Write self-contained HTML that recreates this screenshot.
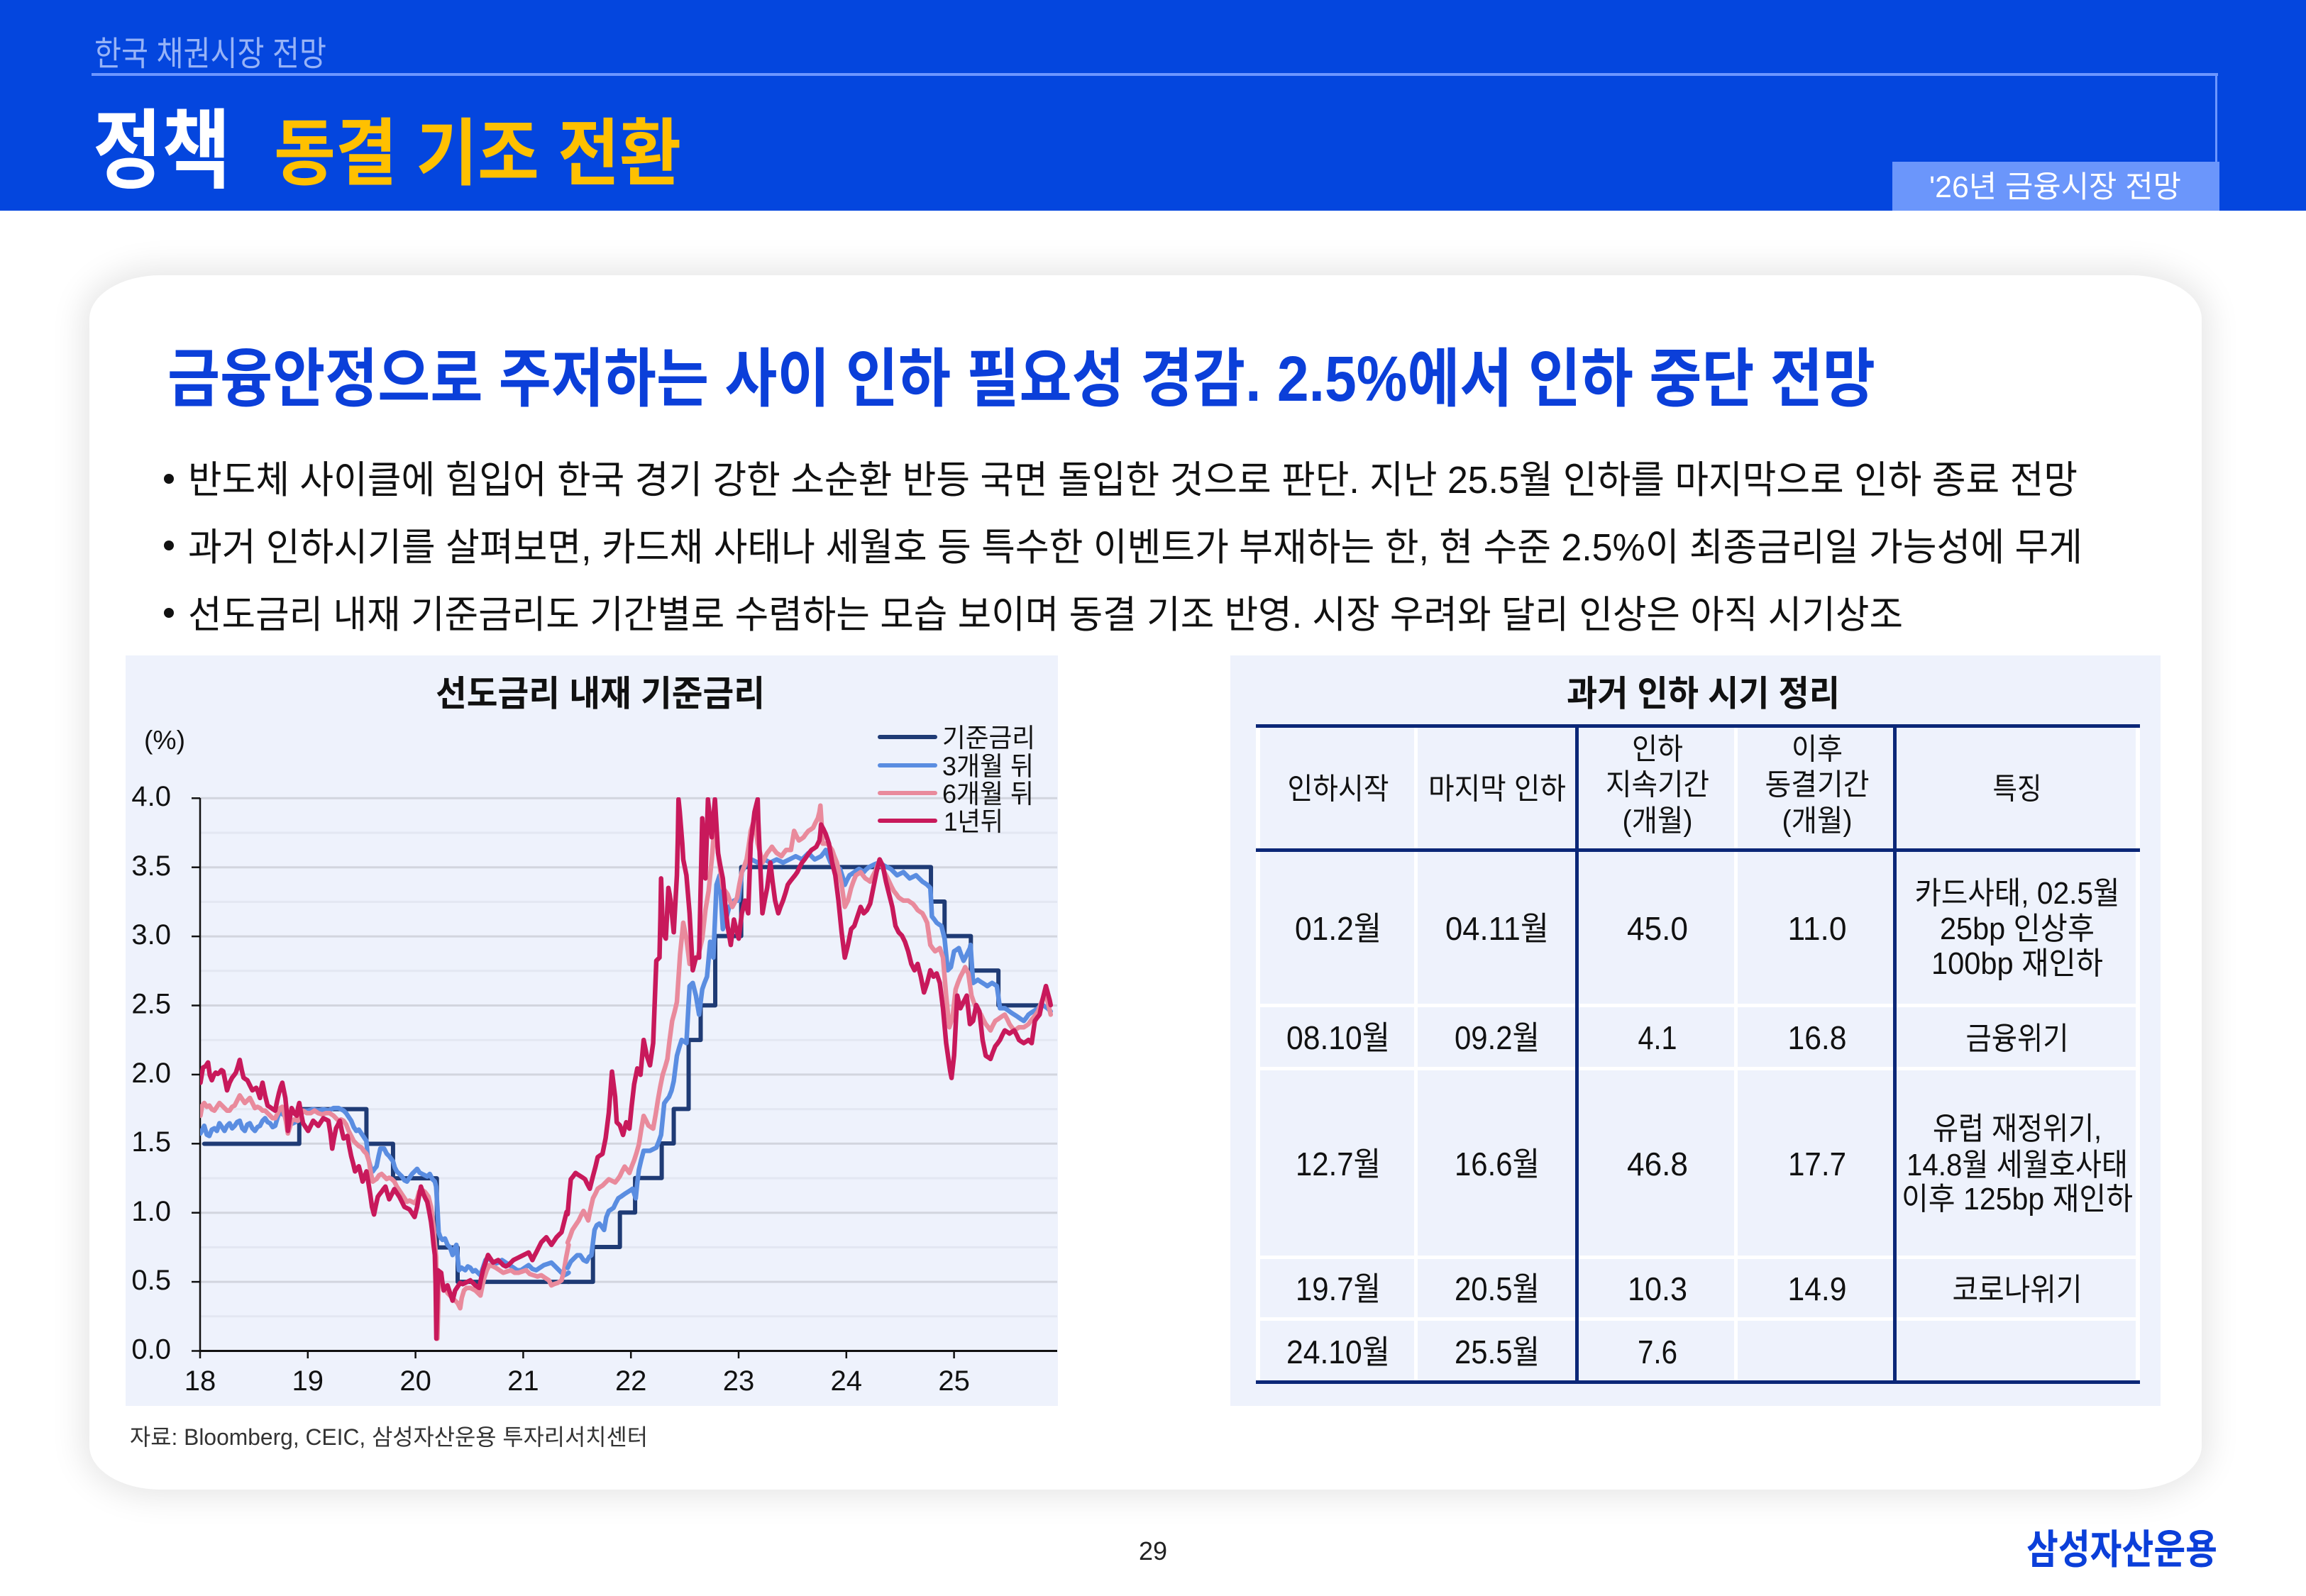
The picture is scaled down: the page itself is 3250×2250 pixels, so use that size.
<!DOCTYPE html>
<html lang="ko">
<head>
<meta charset="utf-8">
<style>
  html, body { margin:0; padding:0; }
  body { width:3250px; height:2250px; position:relative; overflow:hidden; background:#ffffff; }
  .abs { position:absolute; }
  svg text { font-family: "Liberation Sans", "Noto Sans CJK KR", sans-serif; }
</style>
</head>
<body>
<div class="abs" style="left:0;top:0;width:3250px;height:297px;background:#0446de;"></div>
<div class="abs" style="left:2667px;top:228px;width:461px;height:69px;background:#6b96fb;"></div>
<div class="abs" style="left:126px;top:388px;width:2977px;height:1712px;background:#ffffff;border-radius:100px / 62px;box-shadow:0 0 45px 10px rgba(0,0,0,0.10);"></div>
<div class="abs" style="left:177px;top:924px;width:1314px;height:1058px;background:#eef2fc;"></div>
<div class="abs" style="left:1734px;top:924px;width:1311px;height:1058px;background:#eef2fc;"></div>

<svg class="abs" style="left:0;top:0;" width="3250" height="2250" viewBox="0 0 3250 2250" xmlns="http://www.w3.org/2000/svg">
  <!-- header lines -->
  <rect x="129" y="103" width="2997" height="4" fill="#6d96ff"/>
  <rect x="3122" y="103" width="3" height="125" fill="#6d96ff"/>

  <!-- header text -->
  <text x="133" y="92" font-size="48" fill="#97b3f7" textLength="327" lengthAdjust="spacingAndGlyphs">한국 채권시장 전망</text>
  <text x="131" y="255" font-size="122" font-weight="700" fill="#ffffff" textLength="194" lengthAdjust="spacingAndGlyphs">정책</text>
  <text x="386" y="252" font-size="103" font-weight="700" fill="#ffc000" textLength="574" lengthAdjust="spacingAndGlyphs">동결 기조 전환</text>
  <text x="2719" y="278" font-size="43" fill="#ffffff" textLength="355" lengthAdjust="spacingAndGlyphs">'26년 금융시장 전망</text>

  <!-- headline -->
  <text x="236" y="565" font-size="90" font-weight="700" fill="#0b3fd9" textLength="2407" lengthAdjust="spacingAndGlyphs">금융안정으로 주저하는 사이 인하 필요성 경감. 2.5%에서 인하 중단 전망</text>

  <!-- bullets -->
  <circle cx="238" cy="675" r="7" fill="#111"/>
  <circle cx="238" cy="769" r="7" fill="#111"/>
  <circle cx="238" cy="864" r="7" fill="#111"/>
  <text x="265" y="695" font-size="54" fill="#111" textLength="2663" lengthAdjust="spacingAndGlyphs">반도체 사이클에 힘입어 한국 경기 강한 소순환 반등 국면 돌입한 것으로 판단. 지난 25.5월 인하를 마지막으로 인하 종료 전망</text>
  <text x="265" y="790" font-size="54" fill="#111" textLength="2670" lengthAdjust="spacingAndGlyphs">과거 인하시기를 살펴보면, 카드채 사태나 세월호 등 특수한 이벤트가 부재하는 한, 현 수준 2.5%이 최종금리일 가능성에 무게</text>
  <text x="265" y="885" font-size="54" fill="#111" textLength="2417" lengthAdjust="spacingAndGlyphs">선도금리 내재 기준금리도 기간별로 수렴하는 모습 보이며 동결 기조 반영. 시장 우려와 달리 인상은 아직 시기상조</text>

  <!-- ============ CHART ============ -->
  <text x="614" y="995" font-size="50" font-weight="700" fill="#111" textLength="464" lengthAdjust="spacingAndGlyphs">선도금리 내재 기준금리</text>
  <text x="203" y="1056" font-size="37" fill="#111" textLength="58" lengthAdjust="spacingAndGlyphs">(%)</text>

  <!-- minor gridlines -->
  <g stroke="#e3e7f2" stroke-width="3">
    <line x1="282" y1="1174" x2="1490" y2="1174"/>
    <line x1="282" y1="1271.4" x2="1490" y2="1271.4"/>
    <line x1="282" y1="1368.8" x2="1490" y2="1368.8"/>
    <line x1="282" y1="1466.2" x2="1490" y2="1466.2"/>
    <line x1="282" y1="1563.6" x2="1490" y2="1563.6"/>
    <line x1="282" y1="1661" x2="1490" y2="1661"/>
    <line x1="282" y1="1758.4" x2="1490" y2="1758.4"/>
    <line x1="282" y1="1855.8" x2="1490" y2="1855.8"/>
  </g>
  <!-- major gridlines -->
  <g stroke="#d2d5de" stroke-width="3">
    <line x1="282" y1="1125.3" x2="1490" y2="1125.3"/>
    <line x1="282" y1="1222.7" x2="1490" y2="1222.7"/>
    <line x1="282" y1="1320.1" x2="1490" y2="1320.1"/>
    <line x1="282" y1="1417.5" x2="1490" y2="1417.5"/>
    <line x1="282" y1="1514.9" x2="1490" y2="1514.9"/>
    <line x1="282" y1="1612.3" x2="1490" y2="1612.3"/>
    <line x1="282" y1="1709.7" x2="1490" y2="1709.7"/>
    <line x1="282" y1="1807.1" x2="1490" y2="1807.1"/>
  </g>
  <!-- axes -->
  <g stroke="#111" stroke-width="2.5">
    <line x1="282" y1="1125" x2="282" y2="1905"/>
    <line x1="270" y1="1125.3" x2="282" y2="1125.3"/>
    <line x1="270" y1="1222.7" x2="282" y2="1222.7"/>
    <line x1="270" y1="1320.1" x2="282" y2="1320.1"/>
    <line x1="270" y1="1417.5" x2="282" y2="1417.5"/>
    <line x1="270" y1="1514.9" x2="282" y2="1514.9"/>
    <line x1="270" y1="1612.3" x2="282" y2="1612.3"/>
    <line x1="270" y1="1709.7" x2="282" y2="1709.7"/>
    <line x1="270" y1="1807.1" x2="282" y2="1807.1"/>
    <line x1="270" y1="1904.5" x2="282" y2="1904.5"/>
    <line x1="282" y1="1915" x2="282" y2="1904"/>
    <line x1="433.8" y1="1915" x2="433.8" y2="1904"/>
    <line x1="585.6" y1="1915" x2="585.6" y2="1904"/>
    <line x1="737.4" y1="1915" x2="737.4" y2="1904"/>
    <line x1="889.2" y1="1915" x2="889.2" y2="1904"/>
    <line x1="1041" y1="1915" x2="1041" y2="1904"/>
    <line x1="1192.8" y1="1915" x2="1192.8" y2="1904"/>
    <line x1="1344.6" y1="1915" x2="1344.6" y2="1904"/>
  </g>
  <line x1="281" y1="1904.5" x2="1490" y2="1904.5" stroke="#111" stroke-width="3"/>

  <!-- y tick labels -->
  <g font-size="40" fill="#111" text-anchor="end">
    <text x="241" y="1136">4.0</text>
    <text x="241" y="1234">3.5</text>
    <text x="241" y="1331">3.0</text>
    <text x="241" y="1428.5">2.5</text>
    <text x="241" y="1526">2.0</text>
    <text x="241" y="1623">1.5</text>
    <text x="241" y="1721">1.0</text>
    <text x="241" y="1818">0.5</text>
    <text x="241" y="1915.5">0.0</text>
  </g>
  <!-- x tick labels -->
  <g font-size="40" fill="#111" text-anchor="middle">
    <text x="282" y="1960">18</text>
    <text x="433.8" y="1960">19</text>
    <text x="585.6" y="1960">20</text>
    <text x="737.4" y="1960">21</text>
    <text x="889.2" y="1960">22</text>
    <text x="1041" y="1960">23</text>
    <text x="1192.8" y="1960">24</text>
    <text x="1344.6" y="1960">25</text>
  </g>

  <defs>
    <clipPath id="plotclip" clipPathUnits="userSpaceOnUse">
      <rect x="282" y="1124" width="1210" height="800"/>
    </clipPath>
  </defs>

  <g clip-path="url(#plotclip)" fill="none" stroke-linejoin="round" stroke-linecap="round">
    <!-- left portion (2018 - 2021.4) -->
    <g transform="translate(270,1380) scale(0.35714)">
      <polyline vector-effect="non-scaling-stroke" stroke="#1f3b75" stroke-width="6" points="50,651 425,651 425,514 690,514 690,651 795,651 795,787 968,787 968,1060 1050,1060 1050,1196 1490,1196"/>
      <polyline vector-effect="non-scaling-stroke" stroke="#5a8de1" stroke-width="6.5" points="35,610 50,580 60,615 70,620 80,595 90,590 100,600 110,570 120,585 130,600 140,580 150,570 160,590 170,580 180,565 190,560 200,590 210,600 220,575 230,570 240,590 250,600 260,585 270,580 280,560 290,550 300,565 310,570 320,585 330,580 340,545 350,520 360,535 370,540 380,560 385,570 400,570 410,565 420,560 430,540 440,520 460,520 480,515 500,520 520,515 540,520 560,510 580,510 600,520 610,530 620,545 630,560 640,585 650,600 660,595 670,610 680,625 690,640 695,700 700,720 707,745 715,760 722,750 730,740 738,700 745,670 760,670 770,690 780,700 795,720 802,745 810,760 820,770 830,780 840,795 850,800 860,785 870,770 880,760 890,750 900,765 910,770 920,775 930,780 940,770 950,790 960,800 965,820 970,900 975,1000 982,1020 990,1030 1000,1025 1010,1050 1020,1060 1030,1090 1040,1060 1045,1050 1050,1100 1055,1150 1065,1140 1080,1150 1090,1135 1100,1140 1110,1155 1120,1150 1130,1160 1140,1170 1150,1140 1160,1110 1170,1100 1180,1110 1195,1125 1210,1120 1225,1110 1240,1120 1255,1130 1270,1140 1285,1150 1300,1150 1315,1140 1330,1130 1345,1145 1360,1150 1375,1140 1390,1130 1405,1125 1420,1120 1435,1135 1450,1150 1460,1160 1470,1170 1480,1165 1488,1160"/>
      <polyline vector-effect="non-scaling-stroke" stroke="#e98a9c" stroke-width="6.5" points="35,540 42,500 50,490 60,505 70,500 80,515 90,520 100,505 110,490 120,500 130,510 140,520 150,520 160,505 170,500 180,480 190,460 200,475 210,490 220,480 230,470 240,490 250,510 260,505 270,510 280,520 290,520 300,530 310,540 320,550 330,550 340,530 350,510 358,505 365,530 372,560 380,610 388,585 395,560 405,555 420,560 430,540 440,520 455,530 470,530 485,520 500,530 515,535 530,530 545,530 560,540 570,550 580,560 590,555 600,560 610,575 620,600 630,620 640,640 650,650 660,660 670,665 680,680 690,690 700,720 708,770 715,800 722,795 730,790 740,775 750,770 760,780 770,790 780,785 790,790 800,800 810,820 820,835 830,850 840,865 850,880 860,875 870,880 880,885 890,870 898,840 905,830 912,835 920,840 928,850 935,860 940,880 945,900 950,940 955,980 960,1040 965,1100 968,1300 970,1420 973,1300 975,1190 982,1195 990,1200 1000,1220 1010,1240 1020,1250 1030,1260 1040,1270 1050,1280 1060,1300 1066,1260 1075,1230 1085,1220 1100,1220 1110,1225 1120,1230 1130,1240 1140,1250 1148,1210 1155,1180 1165,1150 1175,1130 1190,1135 1200,1140 1215,1150 1230,1160 1245,1155 1260,1150 1275,1160 1290,1160 1305,1155 1320,1150 1335,1165 1350,1170 1365,1175 1380,1170 1395,1180 1410,1190 1420,1210 1430,1205 1445,1200 1460,1190 1470,1150 1478,1100 1488,1050"/>
      <polyline vector-effect="non-scaling-stroke" stroke="#c8195b" stroke-width="6.5" points="35,410 40,380 45,350 55,345 65,330 72,380 80,400 88,380 95,370 103,375 110,370 118,360 125,365 132,400 140,440 150,410 160,390 168,380 175,370 183,345 190,320 198,360 205,390 212,395 220,400 230,420 240,440 248,435 255,430 262,445 270,470 275,430 280,410 290,460 300,500 308,505 315,510 322,515 330,520 338,480 345,450 352,425 358,410 364,440 370,470 375,520 380,600 386,560 395,510 405,530 415,540 420,510 425,490 432,530 440,570 450,585 460,600 470,580 480,560 490,570 500,580 510,565 520,550 530,555 540,560 548,610 555,670 562,630 570,590 578,575 585,560 593,600 600,630 608,625 615,620 622,660 630,700 638,730 645,760 652,750 660,740 668,770 675,800 683,780 690,760 697,800 705,850 712,900 720,930 727,895 735,860 742,850 750,840 757,830 765,820 772,845 780,870 790,850 800,830 810,845 820,860 830,880 840,900 850,905 860,910 870,925 880,940 885,920 890,900 897,860 905,820 910,835 915,850 922,865 930,880 938,920 945,960 950,1000 955,1050 960,1090 963,1200 966,1420 969,1300 972,1150 978,1155 985,1160 990,1200 995,1230 1002,1220 1010,1210 1020,1240 1030,1270 1035,1250 1040,1230 1050,1215 1060,1200 1070,1205 1080,1200 1090,1195 1100,1190 1110,1200 1120,1210 1128,1215 1135,1220 1142,1185 1150,1150 1160,1120 1170,1090 1180,1105 1190,1120 1200,1115 1210,1110 1220,1120 1230,1130 1240,1135 1250,1130 1260,1120 1270,1110 1280,1105 1290,1100 1300,1095 1310,1090 1320,1085 1330,1080 1338,1095 1345,1110 1352,1095 1360,1080 1370,1060 1380,1040 1390,1030 1400,1020 1410,1035 1420,1050 1430,1035 1440,1020 1450,1010 1460,1000 1470,960 1480,920"/>
    </g>
    <!-- right portion (2021.4 - 2025.9) -->
    <g transform="translate(800,1100) scale(0.44643)">
      <polyline vector-effect="non-scaling-stroke" stroke="#1f3b75" stroke-width="6" points="0,1584 80,1584 80,1474 165,1474 165,1365 213,1365 213,1256 297,1256 297,1147 335,1147 335,1038 382,1038 382,820 420,820 420,711 466,711 466,492 548,492 548,274 1147,274 1147,383 1190,383 1190,492 1273,492 1273,601 1360,601 1360,711 1495,711"/>
      <polyline vector-effect="non-scaling-stroke" stroke="#5a8de1" stroke-width="6.5" points="0,1540 10,1520 20,1510 30,1500 40,1500 50,1515 60,1520 68,1505 75,1500 80,1460 85,1420 92,1405 100,1400 108,1410 115,1420 122,1380 130,1360 138,1355 145,1350 152,1335 160,1320 168,1315 175,1310 182,1305 190,1300 198,1295 205,1290 210,1305 215,1320 220,1270 225,1230 232,1200 240,1170 250,1170 260,1170 270,1165 280,1160 288,1140 295,1120 300,1070 305,1020 312,1010 320,1000 328,980 335,950 340,910 345,870 352,845 360,820 368,825 375,830 380,740 385,650 390,645 395,640 400,660 405,680 410,710 415,740 420,700 425,660 432,640 440,620 445,565 450,510 455,535 460,560 465,445 470,330 475,315 480,300 485,385 490,470 495,455 500,440 505,420 510,400 518,390 525,380 532,380 540,380 545,335 550,290 558,275 565,260 572,255 580,250 590,255 600,260 610,255 620,250 630,255 640,260 650,255 660,250 670,255 680,260 690,255 700,250 710,245 720,240 730,245 740,250 750,240 760,230 770,240 780,250 790,245 800,240 808,230 815,220 822,240 830,260 838,265 845,270 852,275 860,280 868,305 875,330 882,315 890,300 898,295 905,290 912,285 920,280 928,285 935,290 942,282 950,275 960,270 970,265 978,262 985,260 992,265 1000,270 1010,275 1020,280 1030,290 1040,300 1050,295 1060,290 1070,300 1080,310 1090,305 1100,300 1110,310 1120,320 1128,325 1135,330 1140,335 1145,340 1148,390 1150,430 1158,440 1165,450 1172,455 1180,460 1185,480 1190,500 1195,550 1200,600 1205,595 1210,590 1215,565 1220,540 1228,535 1235,530 1242,550 1250,570 1258,555 1265,540 1270,530 1272,520 1276,580 1280,640 1288,635 1295,630 1302,635 1310,640 1318,645 1325,650 1332,645 1340,640 1348,645 1355,650 1360,685 1365,720 1372,720 1380,720 1388,725 1395,730 1402,735 1410,740 1418,745 1425,750 1432,755 1440,760 1448,750 1455,740 1462,735 1470,730 1478,725 1485,720 1492,715 1500,710 1508,715 1515,720 1520,725 1525,730"/>
      <polyline vector-effect="non-scaling-stroke" stroke="#e98a9c" stroke-width="6.5" points="0,1460 8,1440 15,1420 25,1405 35,1390 42,1375 50,1360 58,1375 65,1390 72,1355 80,1320 88,1305 95,1290 102,1285 110,1280 120,1270 130,1260 140,1265 150,1270 158,1260 165,1250 172,1235 180,1220 188,1230 195,1240 202,1220 210,1200 218,1175 225,1150 232,1105 240,1060 248,1075 255,1090 262,1095 270,1100 278,1055 285,1010 292,970 300,930 308,905 315,880 322,820 330,760 338,730 345,700 350,625 355,550 360,500 365,450 370,475 375,500 380,540 385,580 390,575 395,570 402,565 410,560 418,530 425,500 430,455 435,410 440,380 445,350 450,300 455,250 460,190 465,130 470,180 475,230 482,285 490,340 498,350 505,360 512,380 520,400 528,385 535,370 542,330 550,290 558,270 565,250 572,205 578,160 584,140 590,120 595,160 600,200 608,230 615,260 622,245 630,230 638,220 645,210 652,220 660,230 668,235 675,240 682,230 690,220 698,220 705,220 710,190 715,160 722,175 730,190 738,185 745,180 752,170 760,160 768,155 775,150 782,135 790,120 795,100 798,80 802,140 805,200 812,200 820,200 828,210 835,220 842,240 850,260 858,295 865,330 870,365 875,400 880,390 885,380 890,360 895,340 902,320 910,300 918,295 925,290 932,300 940,310 948,315 955,320 962,305 970,290 978,270 985,250 992,270 1000,290 1008,305 1015,320 1022,335 1030,350 1038,360 1045,370 1052,375 1060,380 1068,380 1075,380 1082,385 1090,390 1098,400 1105,410 1112,415 1120,420 1128,435 1135,450 1140,485 1145,520 1152,530 1160,540 1168,535 1175,530 1180,545 1185,560 1190,620 1195,680 1200,730 1205,780 1210,765 1215,750 1220,705 1225,660 1232,640 1240,620 1248,605 1255,590 1260,600 1265,610 1270,645 1275,680 1282,700 1290,720 1298,730 1305,740 1312,755 1320,770 1328,780 1335,790 1342,775 1350,760 1358,755 1365,750 1372,745 1380,740 1388,755 1395,770 1402,780 1410,790 1418,785 1425,780 1432,780 1440,780 1448,775 1455,770 1462,760 1470,750 1478,740 1485,730 1492,710 1500,690 1505,685 1510,680 1518,710 1525,740"/>
      <polyline vector-effect="non-scaling-stroke" stroke="#c8195b" stroke-width="6.5" points="0,1370 5,1310 10,1260 18,1250 25,1240 32,1245 40,1250 48,1255 55,1260 62,1275 70,1290 75,1270 80,1250 88,1220 95,1190 102,1185 110,1180 115,1155 120,1130 125,1090 130,1050 135,985 140,920 145,960 150,1000 155,1080 160,1085 165,1090 170,1105 175,1120 180,1100 185,1080 190,1090 195,1100 202,1030 210,960 215,935 220,910 225,920 230,930 235,875 240,820 245,845 250,870 255,885 260,900 265,865 270,830 275,700 280,570 285,565 290,560 293,430 295,310 298,400 300,480 305,490 310,500 314,420 318,340 322,360 325,380 330,430 335,480 340,390 345,300 348,180 350,60 354,100 358,150 362,200 365,250 370,275 375,300 380,360 385,420 390,510 395,600 400,580 405,560 410,560 415,560 420,340 425,120 430,215 435,310 439,185 443,60 449,120 455,180 460,120 465,60 470,145 475,230 482,270 490,310 497,385 505,460 510,490 515,520 520,480 525,440 532,470 540,500 545,460 550,420 555,400 560,380 565,400 570,420 574,310 578,200 584,150 590,100 595,80 600,60 602,130 605,200 610,310 615,420 622,380 630,340 635,300 640,260 647,320 655,380 660,400 665,420 672,400 680,380 688,355 695,330 702,320 710,310 718,300 725,290 732,275 740,260 748,250 755,240 762,230 770,220 778,215 785,210 790,200 795,190 798,165 800,140 808,155 815,170 820,185 825,200 830,230 835,260 840,280 845,300 850,340 855,380 860,430 865,480 870,520 875,560 880,540 885,520 890,495 895,470 900,465 905,460 910,445 915,430 920,415 925,400 930,410 935,420 940,415 945,410 950,400 955,390 960,365 965,340 970,315 975,290 980,270 985,250 990,260 995,270 1000,295 1005,320 1010,340 1015,360 1020,380 1025,400 1030,430 1035,460 1040,470 1045,480 1050,485 1055,490 1060,500 1065,510 1070,525 1075,540 1080,560 1085,580 1090,590 1095,600 1100,590 1105,580 1110,600 1115,620 1120,645 1125,670 1130,655 1135,640 1140,620 1145,600 1150,610 1155,620 1160,615 1165,610 1170,625 1175,640 1180,680 1185,720 1190,775 1195,830 1200,865 1205,900 1208,920 1212,940 1216,905 1220,870 1225,775 1230,680 1235,700 1240,720 1245,710 1250,700 1255,690 1260,680 1265,725 1270,770 1275,765 1280,760 1285,735 1290,710 1295,720 1300,730 1305,775 1310,820 1315,845 1320,870 1328,875 1335,880 1342,860 1350,840 1358,830 1365,820 1372,805 1380,790 1388,795 1395,800 1402,795 1410,790 1418,805 1425,820 1432,825 1440,830 1448,825 1455,820 1460,825 1465,830 1470,795 1475,760 1482,750 1490,740 1495,715 1500,690 1505,670 1510,650 1514,665 1518,680 1522,695 1525,710"/>
    </g>
  </g>

  <!-- legend -->
  <g stroke-width="6" stroke-linecap="round">
    <line x1="1240" y1="1039" x2="1318" y2="1039" stroke="#1f3b75"/>
    <line x1="1240" y1="1079" x2="1318" y2="1079" stroke="#5a8de1"/>
    <line x1="1240" y1="1118" x2="1318" y2="1118" stroke="#e98a9c"/>
    <line x1="1240" y1="1157" x2="1318" y2="1157" stroke="#c8195b"/>
  </g>
  <g font-size="37" fill="#111">
    <text x="1328" y="1053" textLength="131" lengthAdjust="spacingAndGlyphs">기준금리</text>
    <text x="1328" y="1093" textLength="129" lengthAdjust="spacingAndGlyphs">3개월 뒤</text>
    <text x="1328" y="1132" textLength="129" lengthAdjust="spacingAndGlyphs">6개월 뒤</text>
    <text x="1330" y="1171" textLength="84" lengthAdjust="spacingAndGlyphs">1년뒤</text>
  </g>

  <!-- ============ TABLE ============ -->
  <text x="2208" y="995" font-size="50" font-weight="700" fill="#111" textLength="385" lengthAdjust="spacingAndGlyphs">과거 인하 시기 정리</text>

  <!-- white separators -->
  <g fill="#ffffff">
    <rect x="1770" y="1026" width="6" height="921"/>
    <rect x="3010" y="1026" width="6" height="921"/>
    <rect x="1993" y="1026" width="5" height="921"/>
    <rect x="2444" y="1026" width="5" height="921"/>
    <rect x="1770" y="1415" width="1246" height="5"/>
    <rect x="1770" y="1504" width="1246" height="5"/>
    <rect x="1770" y="1770" width="1246" height="5"/>
    <rect x="1770" y="1857" width="1246" height="5"/>
  </g>
  <!-- navy borders -->
  <g fill="#0b2777">
    <rect x="1770" y="1021" width="1246" height="5"/>
    <rect x="1770" y="1196" width="1246" height="5"/>
    <rect x="1770" y="1946" width="1246" height="5"/>
    <rect x="2220" y="1021" width="5" height="930"/>
    <rect x="2668" y="1021" width="5" height="930"/>
  </g>

  <!-- header text -->
  <g font-size="42" fill="#111" text-anchor="middle">
    <text x="1886" y="1126.5" textLength="143" lengthAdjust="spacingAndGlyphs">인하시작</text>
    <text x="2110" y="1126.5" textLength="194" lengthAdjust="spacingAndGlyphs">마지막 인하</text>
    <text x="2336" y="1070.5" textLength="72" lengthAdjust="spacingAndGlyphs">인하</text>
    <text x="2336" y="1120.5" textLength="146" lengthAdjust="spacingAndGlyphs">지속기간</text>
    <text x="2336" y="1171.5" textLength="99" lengthAdjust="spacingAndGlyphs">(개월)</text>
    <text x="2561" y="1070.5" textLength="72" lengthAdjust="spacingAndGlyphs">이후</text>
    <text x="2561" y="1120.5" textLength="147" lengthAdjust="spacingAndGlyphs">동결기간</text>
    <text x="2561" y="1171.5" textLength="99" lengthAdjust="spacingAndGlyphs">(개월)</text>
    <text x="2843" y="1126.5" textLength="69" lengthAdjust="spacingAndGlyphs">특징</text>
  </g>

  <!-- data text -->
  <g font-size="46" fill="#111" text-anchor="middle">
    <text x="1886" y="1325" textLength="122" lengthAdjust="spacingAndGlyphs">01.2월</text>
    <text x="2110" y="1325" textLength="146" lengthAdjust="spacingAndGlyphs">04.11월</text>
    <text x="2336" y="1325" textLength="86" lengthAdjust="spacingAndGlyphs">45.0</text>
    <text x="2561" y="1325" textLength="83" lengthAdjust="spacingAndGlyphs">11.0</text>

    <text x="1886" y="1479" textLength="146" lengthAdjust="spacingAndGlyphs">08.10월</text>
    <text x="2110" y="1479" textLength="120" lengthAdjust="spacingAndGlyphs">09.2월</text>
    <text x="2336" y="1479" textLength="55" lengthAdjust="spacingAndGlyphs">4.1</text>
    <text x="2561" y="1479" textLength="83" lengthAdjust="spacingAndGlyphs">16.8</text>

    <text x="1886" y="1657" textLength="120" lengthAdjust="spacingAndGlyphs">12.7월</text>
    <text x="2110" y="1657" textLength="120" lengthAdjust="spacingAndGlyphs">16.6월</text>
    <text x="2336" y="1657" textLength="86" lengthAdjust="spacingAndGlyphs">46.8</text>
    <text x="2561" y="1657" textLength="82" lengthAdjust="spacingAndGlyphs">17.7</text>

    <text x="1886" y="1833" textLength="120" lengthAdjust="spacingAndGlyphs">19.7월</text>
    <text x="2110" y="1833" textLength="120" lengthAdjust="spacingAndGlyphs">20.5월</text>
    <text x="2336" y="1833" textLength="84" lengthAdjust="spacingAndGlyphs">10.3</text>
    <text x="2561" y="1833" textLength="83" lengthAdjust="spacingAndGlyphs">14.9</text>

    <text x="1886" y="1922" textLength="146" lengthAdjust="spacingAndGlyphs">24.10월</text>
    <text x="2110" y="1922" textLength="120" lengthAdjust="spacingAndGlyphs">25.5월</text>
    <text x="2336" y="1922" textLength="56" lengthAdjust="spacingAndGlyphs">7.6</text>
  </g>
  <g font-size="44" fill="#111" text-anchor="middle">
    <text x="2843" y="1274" textLength="289" lengthAdjust="spacingAndGlyphs">카드사태, 02.5월</text>
    <text x="2843" y="1324" textLength="218" lengthAdjust="spacingAndGlyphs">25bp 인상후</text>
    <text x="2843" y="1373" textLength="242" lengthAdjust="spacingAndGlyphs">100bp 재인하</text>
    <text x="2843" y="1479" textLength="145" lengthAdjust="spacingAndGlyphs">금융위기</text>
    <text x="2843" y="1606" textLength="238" lengthAdjust="spacingAndGlyphs">유럽 재정위기,</text>
    <text x="2843" y="1657" textLength="312" lengthAdjust="spacingAndGlyphs">14.8월 세월호사태</text>
    <text x="2843" y="1705" textLength="326" lengthAdjust="spacingAndGlyphs">이후 125bp 재인하</text>
    <text x="2843" y="1833" textLength="183" lengthAdjust="spacingAndGlyphs">코로나위기</text>
  </g>

  <!-- footer -->
  <text x="183" y="2037" font-size="32" fill="#333" textLength="730" lengthAdjust="spacingAndGlyphs">자료: Bloomberg, CEIC, 삼성자산운용 투자리서치센터</text>
  <text x="1625" y="2199" font-size="36" fill="#222" text-anchor="middle">29</text>
  <text x="2856" y="2204" font-size="57" font-weight="700" fill="#0b3fd9" textLength="269" lengthAdjust="spacingAndGlyphs">삼성자산운용</text>
</svg>
</body>
</html>
